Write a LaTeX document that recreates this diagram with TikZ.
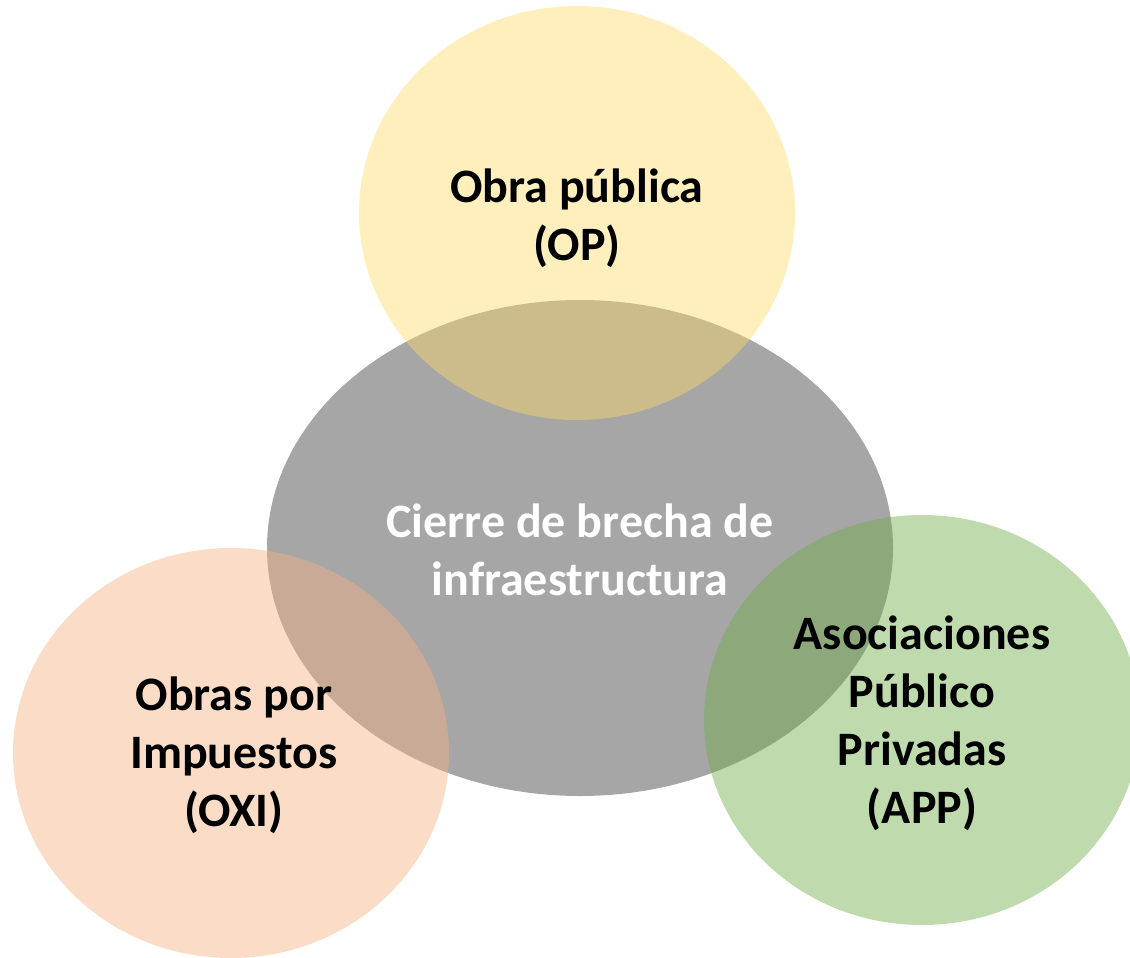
\documentclass[tikz,border=0pt]{standalone}
\usepackage{fontspec}
\setmainfont{Carlito}
\usetikzlibrary{shapes.geometric}
\definecolor{cgray}{HTML}{A6A6A6}
\definecolor{cyellow}{HTML}{FFD966}
\definecolor{corange}{HTML}{F4B183}
\definecolor{cgreen}{HTML}{70AD47}
\tikzset{
  blob/.style={ellipse, draw=none, inner sep=0pt},
  lbl/.style={align=center, font=\fontsize{48}{58}\selectfont\bfseries, text=black, inner sep=0pt},
}
\begin{document}
\begin{tikzpicture}[x=1pt,y=-1pt]
\useasboundingbox (0,0) rectangle (1130,958);
\clip (0,0) rectangle (1130,958);
\node[blob, fill=cgray, minimum width=626pt, minimum height=496pt] (gray) at (580,548) {};
\node[blob, fill=cyellow, fill opacity=0.43, minimum width=436pt, minimum height=414pt] (yellow) at (577,213) {};
\node[blob, fill=corange, fill opacity=0.45, minimum width=436pt, minimum height=410pt] (orange) at (231,753) {};
\node[blob, fill=cgreen, fill opacity=0.45, minimum width=436pt, minimum height=410pt] (green) at (922,720) {};
\node[lbl, text=white] (tgray) at (580,550) {Cierre de brecha de\\infraestructura};
\node[lbl] (tyellow) at (577,218) {Obra pública\\(OP)};
\node[lbl] (torange) at (234,755) {Obras por\\Impuestos\\(OXI)};
\node[lbl] (tgreen) at (922,723) {Asociaciones\\Público\\Privadas\\(APP)};
\end{tikzpicture}
\end{document}
